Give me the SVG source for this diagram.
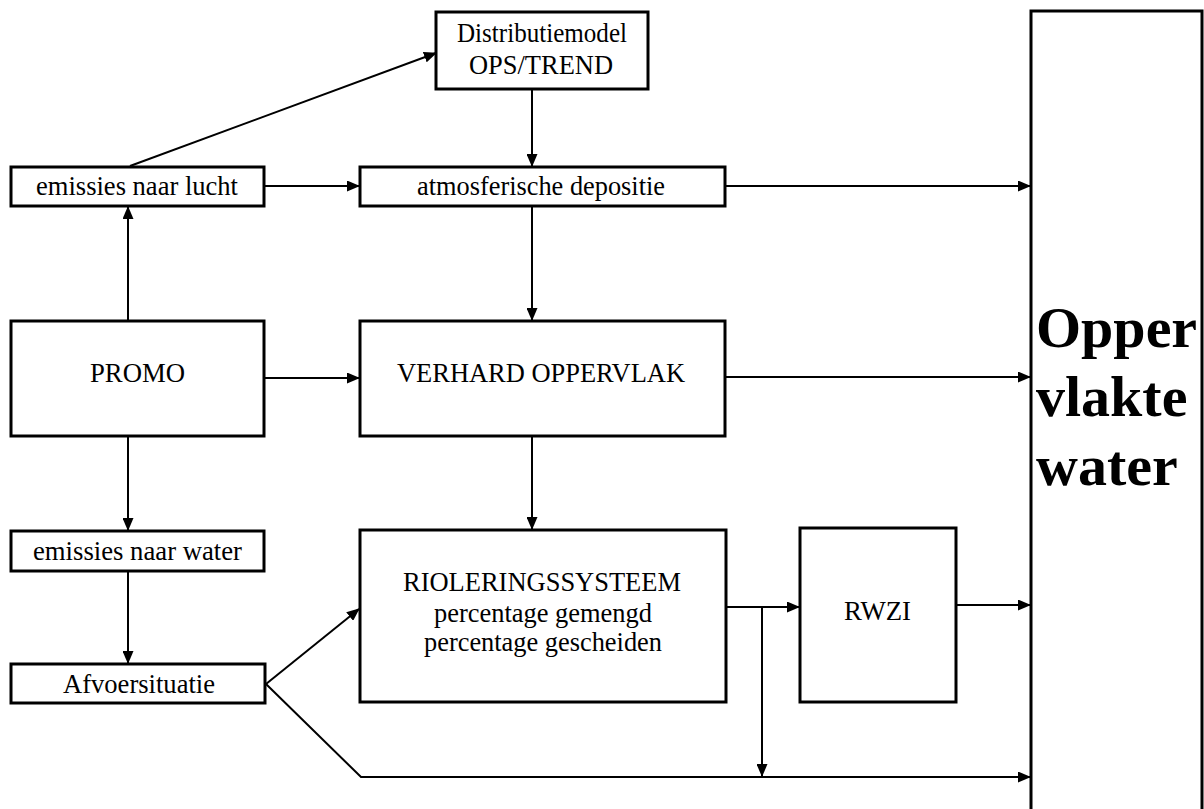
<svg xmlns="http://www.w3.org/2000/svg" width="1204" height="809" viewBox="0 0 1204 809">
  <style>
    .box { fill: #fff; stroke: #000; stroke-width: 3; }
    .lbl { font-family: "Liberation Serif", "Times New Roman", serif; font-size: 28px; fill: #000; text-anchor: middle; }
    .big { font-family: "Liberation Serif", "Times New Roman", serif; font-size: 58px; font-weight: bold; fill: #000; }
    .conn { fill: none; stroke: #000; stroke-width: 2; marker-end: url(#arrow); }
  </style>
  <defs>
    <marker id="arrow" markerUnits="userSpaceOnUse" markerWidth="13" markerHeight="11" refX="12" refY="5.5" orient="auto">
      <path d="M0,0 L13,5.5 L0,11 Z" fill="#000"/>
    </marker>
  </defs>
  <rect width="1204" height="809" fill="#fff"/>

  <g id="oppervlaktewater">
    <rect class="box" x="1031" y="11" width="171" height="810"/>
    <text class="big" x="1036" y="347">Opper</text>
    <text class="big" x="1036" y="416">vlakte</text>
    <text class="big" x="1036" y="485">water</text>
  </g>

  <g id="distributiemodel">
    <rect class="box" x="436" y="12" width="212" height="77"/>
    <text class="lbl" x="542" y="42" textLength="170" lengthAdjust="spacingAndGlyphs">Distributiemodel</text>
    <text class="lbl" x="541" y="74" textLength="144" lengthAdjust="spacingAndGlyphs">OPS/TREND</text>
  </g>

  <g id="emissies-lucht">
    <rect class="box" x="11" y="167" width="253" height="39"/>
    <text class="lbl" x="137" y="195" textLength="202" lengthAdjust="spacingAndGlyphs">emissies naar lucht</text>
  </g>

  <g id="atmosferische-depositie">
    <rect class="box" x="360" y="167" width="365" height="39"/>
    <text class="lbl" x="541" y="195" textLength="248" lengthAdjust="spacingAndGlyphs">atmosferische depositie</text>
  </g>

  <g id="promo">
    <rect class="box" x="11" y="321" width="253" height="115"/>
    <text class="lbl" x="137.5" y="382" textLength="95" lengthAdjust="spacingAndGlyphs">PROMO</text>
  </g>

  <g id="verhard-oppervlak">
    <rect class="box" x="360" y="321" width="365" height="115"/>
    <text class="lbl" x="541" y="382" textLength="288" lengthAdjust="spacingAndGlyphs">VERHARD OPPERVLAK</text>
  </g>

  <g id="emissies-water">
    <rect class="box" x="11" y="531" width="253" height="40"/>
    <text class="lbl" x="137.5" y="560" textLength="209" lengthAdjust="spacingAndGlyphs">emissies naar water</text>
  </g>

  <g id="afvoersituatie">
    <rect class="box" x="11" y="664" width="254" height="39"/>
    <text class="lbl" x="139" y="693" textLength="152" lengthAdjust="spacingAndGlyphs">Afvoersituatie</text>
  </g>

  <g id="rioleringssysteem">
    <rect class="box" x="360" y="530" width="366" height="172"/>
    <text class="lbl" x="542" y="591" textLength="278" lengthAdjust="spacingAndGlyphs">RIOLERINGSSYSTEEM</text>
    <text class="lbl" x="543" y="622" textLength="218" lengthAdjust="spacingAndGlyphs">percentage gemengd</text>
    <text class="lbl" x="543" y="651" textLength="238" lengthAdjust="spacingAndGlyphs">percentage gescheiden</text>
  </g>

  <g id="rwzi">
    <rect class="box" x="800" y="528" width="156" height="174"/>
    <text class="lbl" x="877.5" y="620" textLength="67" lengthAdjust="spacingAndGlyphs">RWZI</text>
  </g>

  <g id="connectors">
    <line class="conn" x1="130" y1="166" x2="436" y2="53"/>
    <line class="conn" x1="532" y1="90" x2="532" y2="166"/>
    <line class="conn" x1="265" y1="186" x2="359" y2="186"/>
    <line class="conn" x1="726" y1="186" x2="1030" y2="186"/>
    <line class="conn" x1="128" y1="320" x2="128" y2="207"/>
    <line class="conn" x1="532" y1="207" x2="532" y2="320"/>
    <line class="conn" x1="265" y1="378" x2="359" y2="378"/>
    <line class="conn" x1="726" y1="377" x2="1030" y2="377"/>
    <line class="conn" x1="128" y1="437" x2="128" y2="530"/>
    <line class="conn" x1="532" y1="437" x2="532" y2="529"/>
    <line class="conn" x1="128" y1="572" x2="128" y2="663"/>
    <line class="conn" x1="266" y1="684" x2="359" y2="609"/>
    <polyline class="conn" points="266,684 361,777 1030,777"/>
    <line class="conn" x1="727" y1="607" x2="799" y2="607"/>
    <line class="conn" x1="762" y1="607" x2="762" y2="776"/>
    <line class="conn" x1="957" y1="605" x2="1030" y2="605"/>
  </g>
</svg>
